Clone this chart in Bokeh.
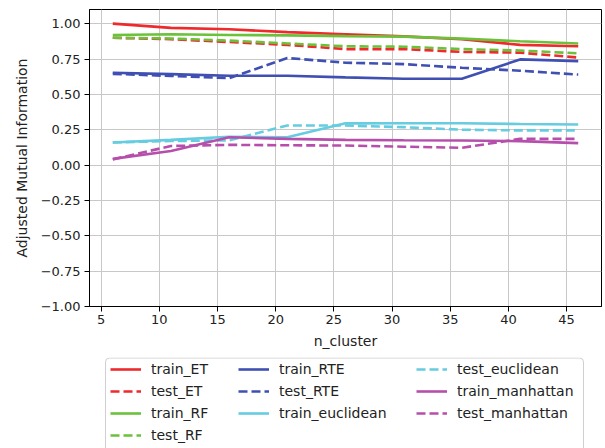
from bokeh.plotting import figure
from bokeh.layouts import column
from bokeh.models import Legend, LegendItem, FixedTicker, Range1d, BoxAnnotation
from bokeh.embed import file_html
from bokeh.resources import INLINE

# cluster counts on the x axis
n_cluster = [6, 11, 16, 21, 26, 31, 36, 41, 46]

# adjusted mutual information per embedding / split
train_ET = [1.00, 0.97, 0.96, 0.94, 0.925, 0.91, 0.89, 0.85, 0.84]
test_ET = [0.90, 0.89, 0.87, 0.85, 0.82, 0.82, 0.80, 0.795, 0.76]
train_RF = [0.92, 0.925, 0.92, 0.917, 0.912, 0.908, 0.894, 0.875, 0.86]
test_RF = [0.90, 0.895, 0.88, 0.86, 0.84, 0.837, 0.82, 0.81, 0.79]
train_RTE = [0.653, 0.643, 0.632, 0.632, 0.62, 0.61, 0.61, 0.747, 0.735]
test_RTE = [0.645, 0.63, 0.615, 0.757, 0.724, 0.714, 0.688, 0.667, 0.64]
train_euclidean = [0.16, 0.178, 0.20, 0.197, 0.295, 0.296, 0.296, 0.29, 0.287]
test_euclidean = [0.16, 0.17, 0.175, 0.28, 0.28, 0.268, 0.25, 0.245, 0.245]
train_manhattan = [0.044, 0.10, 0.197, 0.185, 0.178, 0.175, 0.174, 0.169, 0.155]
test_manhattan = [0.04, 0.135, 0.143, 0.14, 0.138, 0.13, 0.122, 0.185, 0.185]

x_ticks = [5, 10, 15, 20, 25, 30, 35, 40, 45]
y_ticks = [-1.0, -0.75, -0.5, -0.25, 0.0, 0.25, 0.5, 0.75, 1.0]

RED = "#ee2a2c"
GREEN = "#6cc13c"
BLUE = "#3f50b2"
CYAN = "#66cce0"
PURPLE = "#b64fab"

series = [
    ("train_ET", train_ET, RED, "solid"),
    ("test_ET", test_ET, RED, "dashed"),
    ("train_RF", train_RF, GREEN, "solid"),
    ("test_RF", test_RF, GREEN, "dashed"),
    ("train_RTE", train_RTE, BLUE, "solid"),
    ("test_RTE", test_RTE, BLUE, "dashed"),
    ("train_euclidean", train_euclidean, CYAN, "solid"),
    ("test_euclidean", test_euclidean, CYAN, "dashed"),
    ("train_manhattan", train_manhattan, PURPLE, "solid"),
    ("test_manhattan", test_manhattan, PURPLE, "dashed"),
]

FONT = "DejaVu Sans"
LINE_W = 2.6
DASH = "9 4"
LEFT, RIGHT = 89, 4

# main chart
p = figure(
    width=605, height=357,
    x_range=Range1d(4, 48), y_range=Range1d(-1.0, 1.1),
    output_backend="svg", toolbar_location=None,
    min_border_left=LEFT, min_border_right=RIGHT, min_border_top=9, min_border_bottom=51,
    background_fill_color="white", border_fill_color="white",
)

p.outline_line_color = "black"
p.outline_line_width = 1
p.outline_line_alpha = 1.0

p.xaxis.ticker = FixedTicker(ticks=x_ticks)
p.yaxis.ticker = FixedTicker(ticks=y_ticks)
p.yaxis.major_label_overrides = {
    t: ("%.2f" % t).replace("-", "\u2212") for t in y_ticks
}

for ax in (p.xaxis, p.yaxis):
    ax.axis_line_color = "black"
    ax.major_tick_line_color = "black"
    ax.major_tick_out = 5
    ax.major_tick_in = 0
    ax.minor_tick_line_color = None
    ax.major_label_text_font = FONT
    ax.major_label_text_font_size = "13px"
    ax.major_label_text_color = "#222222"
    ax.axis_label_text_font = FONT
    ax.axis_label_text_font_size = "14px"
    ax.axis_label_text_font_style = "normal"
    ax.axis_label_text_color = "#222222"

p.xaxis.axis_label = "n_cluster"
p.yaxis.axis_label = "Adjusted Mutual Information"
p.xaxis.major_label_standoff = 3
p.yaxis.major_label_standoff = 4
p.xaxis.axis_label_standoff = 6
p.yaxis.axis_label_standoff = 8

p.xgrid.grid_line_color = "#c8c8c8"
p.ygrid.grid_line_color = "#c8c8c8"
p.xgrid.grid_line_width = 1
p.ygrid.grid_line_width = 1

for name, vals, color, dash in series:
    p.line(n_cluster, vals, line_color=color, line_width=LINE_W,
           line_dash=DASH if dash == "dashed" else "solid")

# legend strip under the chart; its frame lines up with the chart frame,
# ranges are in page pixels with y growing downward
lg = figure(
    width=605, height=91,
    x_range=Range1d(LEFT, 605 - RIGHT), y_range=Range1d(91, 0),
    output_backend="svg", toolbar_location=None,
    x_axis_location=None, y_axis_location=None,
    min_border=0, min_border_left=LEFT, min_border_right=RIGHT,
    min_border_top=0, min_border_bottom=0,
    background_fill_color="white", border_fill_color="white",
)
lg.grid.visible = False
lg.outline_line_color = None

frame_box = BoxAnnotation(
    left=105, right=583, top=0.5, bottom=140,
    fill_color="white", fill_alpha=1.0,
    line_color="#d0d0d0", line_width=1, line_alpha=1.0,
    border_radius=4,
)
lg.add_layout(frame_box)

renderers = {}
for name, vals, color, dash in series:
    renderers[name] = lg.line([-5, -4], [-5, -5], line_color=color, line_width=LINE_W,
                              line_dash=DASH if dash == "dashed" else "solid")

# matplotlib-style column split: 4 / 3 / 3
columns = [
    (["train_ET", "test_ET", "train_RF", "test_RF"], 110),
    (["train_RTE", "test_RTE", "train_euclidean"], 238),
    (["test_euclidean", "train_manhattan", "test_manhattan"], 416),
]

ROW_H = 16
ROW_GAP = 6
TOP = 4
for names, left in columns:
    n = len(names)
    h = n * ROW_H + (n - 1) * ROW_GAP
    leg = Legend(
        items=[LegendItem(label=nm, renderers=[renderers[nm]]) for nm in names],
        location=(left - LEFT, 91 - TOP - h),
        orientation="vertical",
        label_text_font=FONT,
        label_text_font_size="14px",
        label_text_color="#222222",
        glyph_width=31,
        glyph_height=ROW_H,
        label_height=ROW_H,
        label_standoff=10,
        spacing=ROW_GAP,
        padding=0,
        margin=0,
        border_line_color=None,
        background_fill_alpha=0.0,
    )
    lg.add_layout(leg, "center")

open("out.html", "w").write(file_html(column(p, lg, spacing=0), INLINE))
